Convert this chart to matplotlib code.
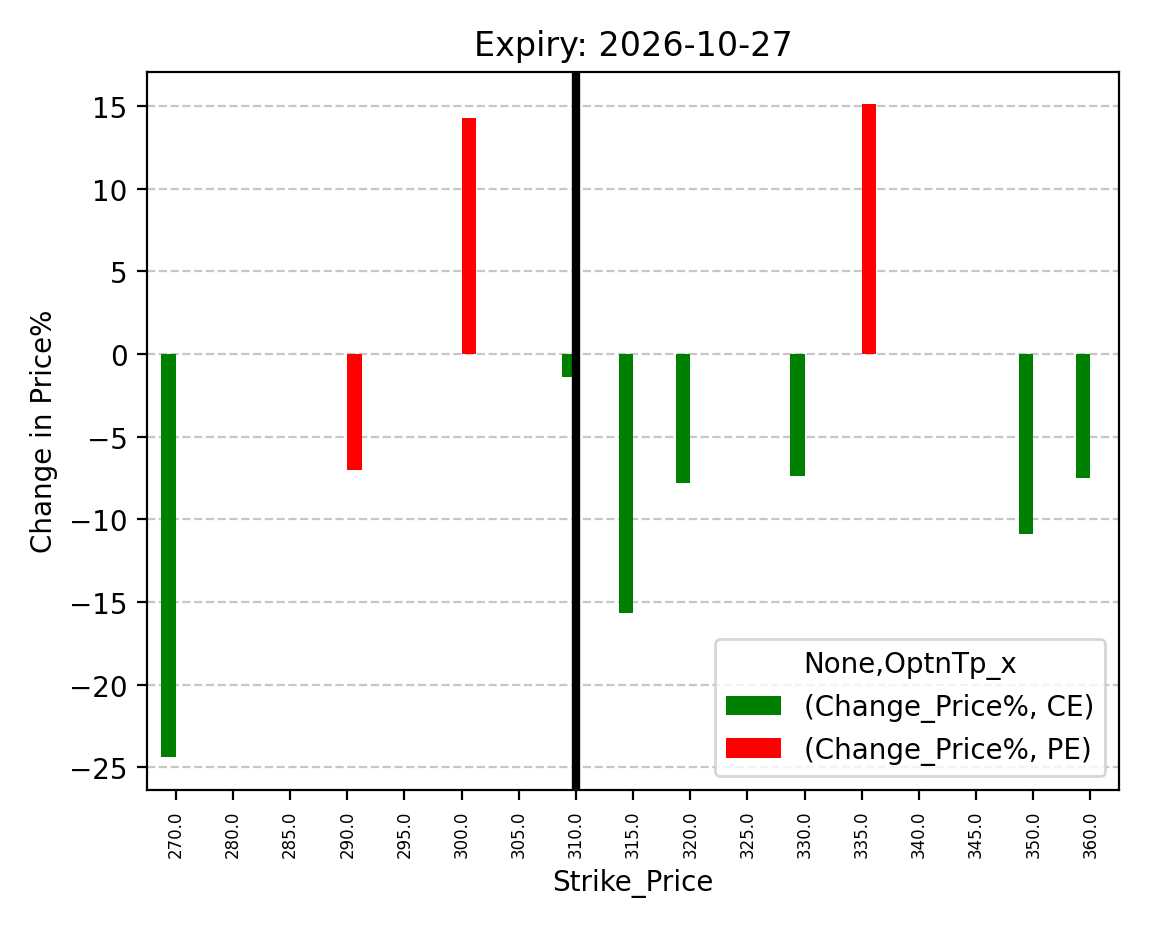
import matplotlib
matplotlib.use("Agg")
import matplotlib.pyplot as plt
import numpy as np
import pandas as pd

strikes = [270.0, 280.0, 285.0, 290.0, 295.0, 300.0, 305.0, 310.0, 315.0,
           320.0, 325.0, 330.0, 335.0, 340.0, 345.0, 350.0, 360.0]
ce = [-24.4, np.nan, np.nan, np.nan, np.nan, np.nan, np.nan, -1.4, -15.7,
      -7.8, np.nan, -7.4, np.nan, np.nan, np.nan, -10.9, -7.5]
pe = [np.nan, np.nan, np.nan, -7.0, np.nan, 14.3, np.nan, np.nan, np.nan,
      np.nan, np.nan, np.nan, 15.1, np.nan, np.nan, np.nan, np.nan]

cols = pd.MultiIndex.from_tuples([("Change_Price%", "CE"), ("Change_Price%", "PE")],
                                 names=[None, "OptnTp_x"])
df = pd.DataFrame(np.column_stack([ce, pe]), index=pd.Index(strikes, name="Strike_Price"),
                  columns=cols)

fig, ax = plt.subplots(figsize=(5.745, 4.64), dpi=200)
df.plot(kind="bar", ax=ax, color=["green", "red"])
ax.axvline(7, color="black", linewidth=3)
ax.grid(axis="y", linestyle="--", alpha=0.7)
ax.set_axisbelow(True)
ax.set_ylabel("Change in Price%")
ax.set_xlabel("Strike_Price")
ax.set_title("Expiry: 2026-10-27")
ax.tick_params(axis="x", labelsize=6, rotation=90)
ax.legend(title="None,OptnTp_x", loc="lower right")
fig.tight_layout()
fig.savefig("out.png")
